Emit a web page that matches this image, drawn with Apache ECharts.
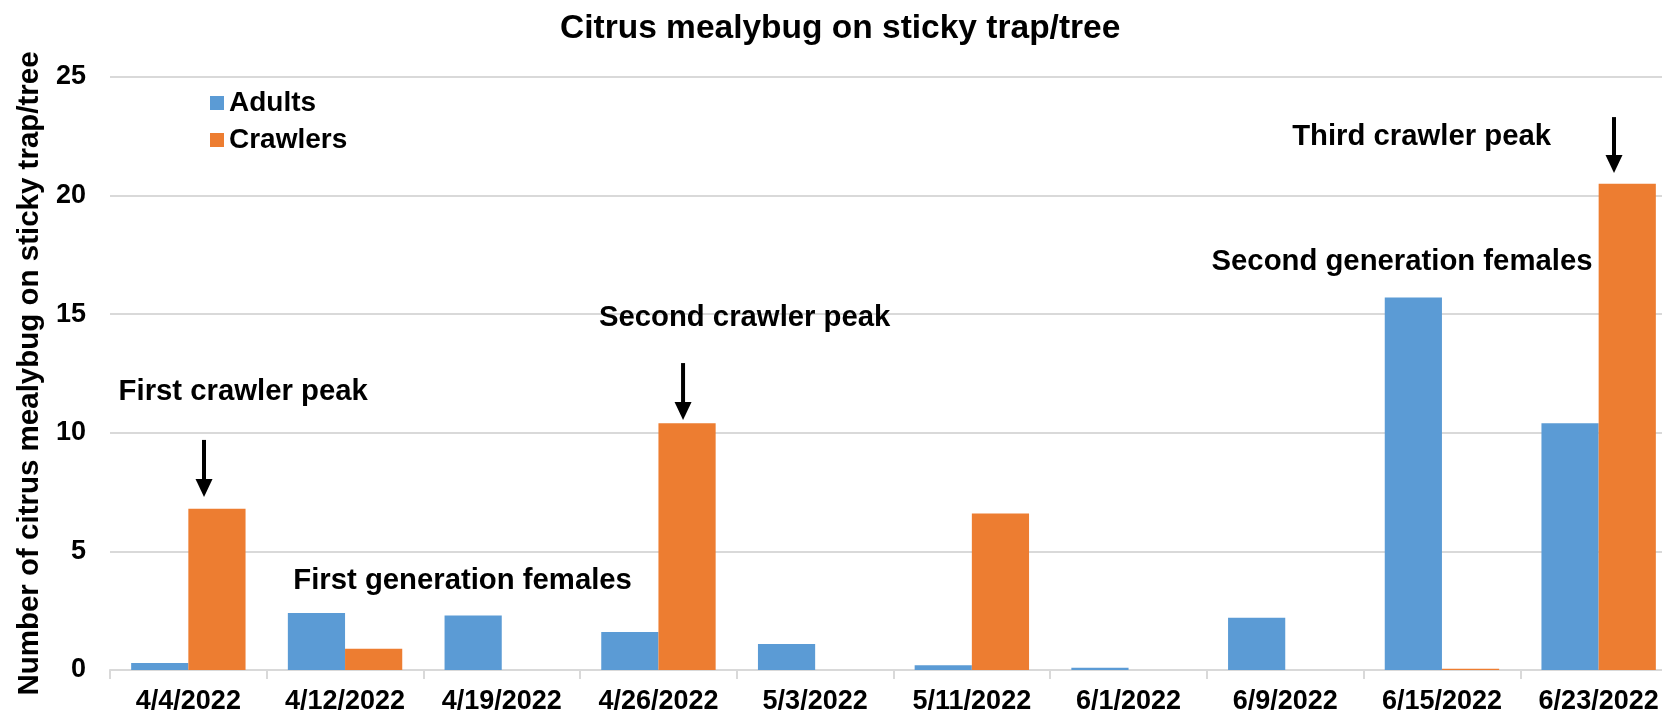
<!DOCTYPE html>
<html>
<head>
<meta charset="utf-8">
<script src="https://cdn.jsdelivr.net/npm/echarts@6/dist/echarts.min.js"></script>
<style>
  html, body { margin: 0; padding: 0; background: #fff; }
  #chart { width: 1662px; height: 718px; }
</style>
</head>
<body>
<div id="chart"></div>
<script>
const FONT = '"Liberation Sans", Arial, sans-serif';

const categories = ['4/4/2022', '4/12/2022', '4/19/2022', '4/26/2022', '5/3/2022',
  '5/11/2022', '6/1/2022', '6/9/2022', '6/15/2022', '6/23/2022'];
const adults = [0.3, 2.4, 2.3, 1.6, 1.1, 0.2, 0.1, 2.2, 15.7, 10.4];
const crawlers = [6.8, 0.9, 0, 10.4, 0, 6.6, 0, 0, 0.05, 20.5];

// annotation text, placed in data space (category index offset, y value)
const notes = [
  {text: 'First crawler peak', at: 0.35, value: 11.72},
  {text: 'First generation females', at: 1.75, value: 3.75},
  {text: 'Second crawler peak', at: 3.55, value: 14.84},
  {text: 'Second generation females', at: 7.745, value: 17.21},
  {text: 'Third crawler peak', at: 7.87, value: 22.48}
];
// arrows pointing down at the crawler peaks
const arrows = [
  {at: 0.10, from: 9.7, to: 7.29},
  {at: 3.157, from: 12.94, to: 10.54},
  {at: 9.098, from: 23.31, to: 20.95}
];

const chart = echarts.init(document.getElementById('chart'));

const option = {
  animation: false,
  textStyle: {fontFamily: FONT},
  title: {
    text: 'Citrus mealybug on sticky trap/tree',
    left: 555,
    top: 7,
    textStyle: {fontSize: 33.5, fontWeight: 'bold', color: '#000', fontFamily: FONT}
  },
  legend: {
    orient: 'vertical',
    left: 205,
    top: 84,
    itemWidth: 14,
    itemHeight: 14,
    itemGap: 9,
    icon: 'rect',
    textStyle: {fontSize: 28, fontWeight: 'bold', color: '#000', fontFamily: FONT},
    data: ['Adults', 'Crawlers']
  },
  grid: {
    left: 110,
    top: 77,
    width: 1567,
    bottom: 48,
    containLabel: false,
    outerBoundsMode: 'none'
  },
  xAxis: {
    type: 'category',
    data: categories,
    axisLine: {lineStyle: {color: '#d9d9d9', width: 2}},
    axisTick: {show: true, interval: 0, length: 9, lineStyle: {color: '#d9d9d9', width: 2}},
    axisLabel: {
      interval: 0,
      hideOverlap: false,
      margin: 18,
      fontSize: 27,
      fontWeight: 'bold',
      color: '#000',
      fontFamily: FONT
    }
  },
  yAxis: {
    type: 'value',
    min: 0,
    max: 25,
    interval: 5,
    name: 'Number of citrus mealybug on sticky trap/tree',
    nameLocation: 'middle',
    nameRotate: 90,
    nameGap: 60,
    nameTextStyle: {fontSize: 29.5, fontWeight: 'bold', color: '#000', fontFamily: FONT},
    axisLine: {show: false},
    axisTick: {show: false},
    axisLabel: {
      margin: 24,
      fontSize: 27,
      fontWeight: 'bold',
      color: '#000',
      fontFamily: FONT
    },
    splitLine: {lineStyle: {color: '#d9d9d9', width: 2}}
  },
  series: [
    {
      name: 'Adults',
      type: 'bar',
      data: adults,
      barGap: '0%',
      barCategoryGap: '27%',
      itemStyle: {color: '#5b9bd5'}
    },
    {
      name: 'Crawlers',
      type: 'bar',
      data: crawlers,
      barGap: '0%',
      barCategoryGap: '27%',
      itemStyle: {color: '#ed7d31'}
    }
  ]
};

chart.setOption(option);

// place the annotations through the axes
const x0 = chart.convertToPixel({xAxisIndex: 0}, 0);
const x1 = chart.convertToPixel({xAxisIndex: 0}, 1);
const bw = x1 - x0;
const px = at => x0 + at * bw;
const py = v => chart.convertToPixel({yAxisIndex: 0}, v);

const graphics = [];
notes.forEach(n => {
  graphics.push({
    type: 'text',
    x: px(n.at),
    y: py(n.value),
    style: {
      text: n.text,
      fill: '#000',
      font: 'bold 29.3px ' + FONT,
      textAlign: 'center',
      textVerticalAlign: 'middle'
    },
    silent: true
  });
});
arrows.forEach(a => {
  const x = px(a.at);
  const top = py(a.from);
  const tip = py(a.to);
  const head = 18;
  graphics.push({
    type: 'line',
    shape: {x1: x, y1: top, x2: x, y2: tip - head + 2},
    style: {stroke: '#000', lineWidth: 4},
    silent: true
  });
  graphics.push({
    type: 'polygon',
    shape: {points: [[x - 8.5, tip - head], [x + 8.5, tip - head], [x, tip]]},
    style: {fill: '#000'},
    silent: true
  });
});
chart.setOption({graphic: graphics});
</script>
</body>
</html>
